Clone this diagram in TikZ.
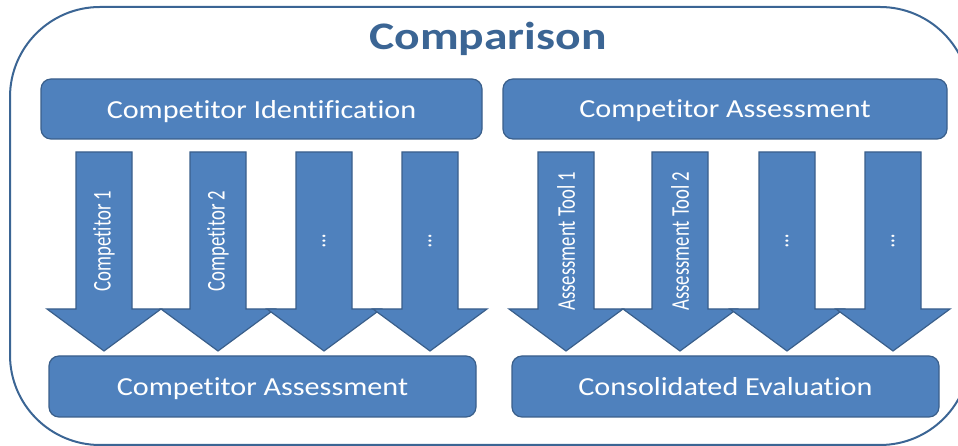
\documentclass[tikz,border=0pt]{standalone}
\usepackage{fontspec}
\setmainfont{Carlito}[Ligatures=CommonOff]
\usetikzlibrary{arrows.meta,positioning,calc}
\definecolor{boxblue}{HTML}{4F81BD}
\definecolor{boxline}{HTML}{3A5F8B}
\definecolor{titleblue}{HTML}{3B6594}

\begin{document}
\begin{tikzpicture}[x=1pt,y=1pt,
	box/.style={draw=boxline,line width=1.2pt,fill=boxblue,rounded corners=10pt,text=white,
		minimum height=60pt,text depth=0pt,font=\fontsize{26}{30}\selectfont},
	blockarrow/.style={draw=boxline,line width=1.2pt,fill=boxblue},
	arrowlabel/.style={text=white,rotate=90,font=\fontsize{22}{26}\selectfont}]
	\useasboundingbox (0,0) rectangle (958,446);
	\clip (0,0) rectangle (958,446);
	% outer frame and title
	\draw[draw=titleblue,line width=2pt,rounded corners=90pt] (10,1) rectangle (970,439);
	\node[anchor=base,text=titleblue,font=\fontsize{39}{44}\selectfont\bfseries] (title) at (488,396) {\scalebox{1.22}[1]{Comparison}};
	% boxes
	\node[box,minimum width=441pt] (ident) at (261.5,337) {\scalebox{1.16}[1]{Competitor Identification}};
	\node[box,minimum width=444pt] (assess) at (725,337) {\scalebox{1.16}[1]{Competitor Assessment}};
	\node[box,minimum width=427pt,minimum height=61pt] (compassess) at (262.5,59.5) {\scalebox{1.16}[1]{Competitor Assessment}};
	\node[box,minimum width=427pt,minimum height=61pt] (consol) at (725.5,59.5) {\scalebox{1.16}[1]{Consolidated Evaluation}};
	% block arrows
	\foreach \x/\lbl [count=\i] in {104/Competitor 1,218/Competitor 2,324/\dots,430/\dots,
		566/Assessment Tool 1,680/Assessment Tool 2,787/\dots,893/\dots}{
		\draw[blockarrow] (\x-28,294) -- (\x+28,294) -- (\x+28,137) -- (\x+57,137)
			-- (\x,95) -- (\x-57,137) -- (\x-28,137) -- cycle;
		\node[arrowlabel] (lbl\i) at (\x,205) {\scalebox{0.85}[1.16]{\lbl}};
	}
\end{tikzpicture}
\end{document}
